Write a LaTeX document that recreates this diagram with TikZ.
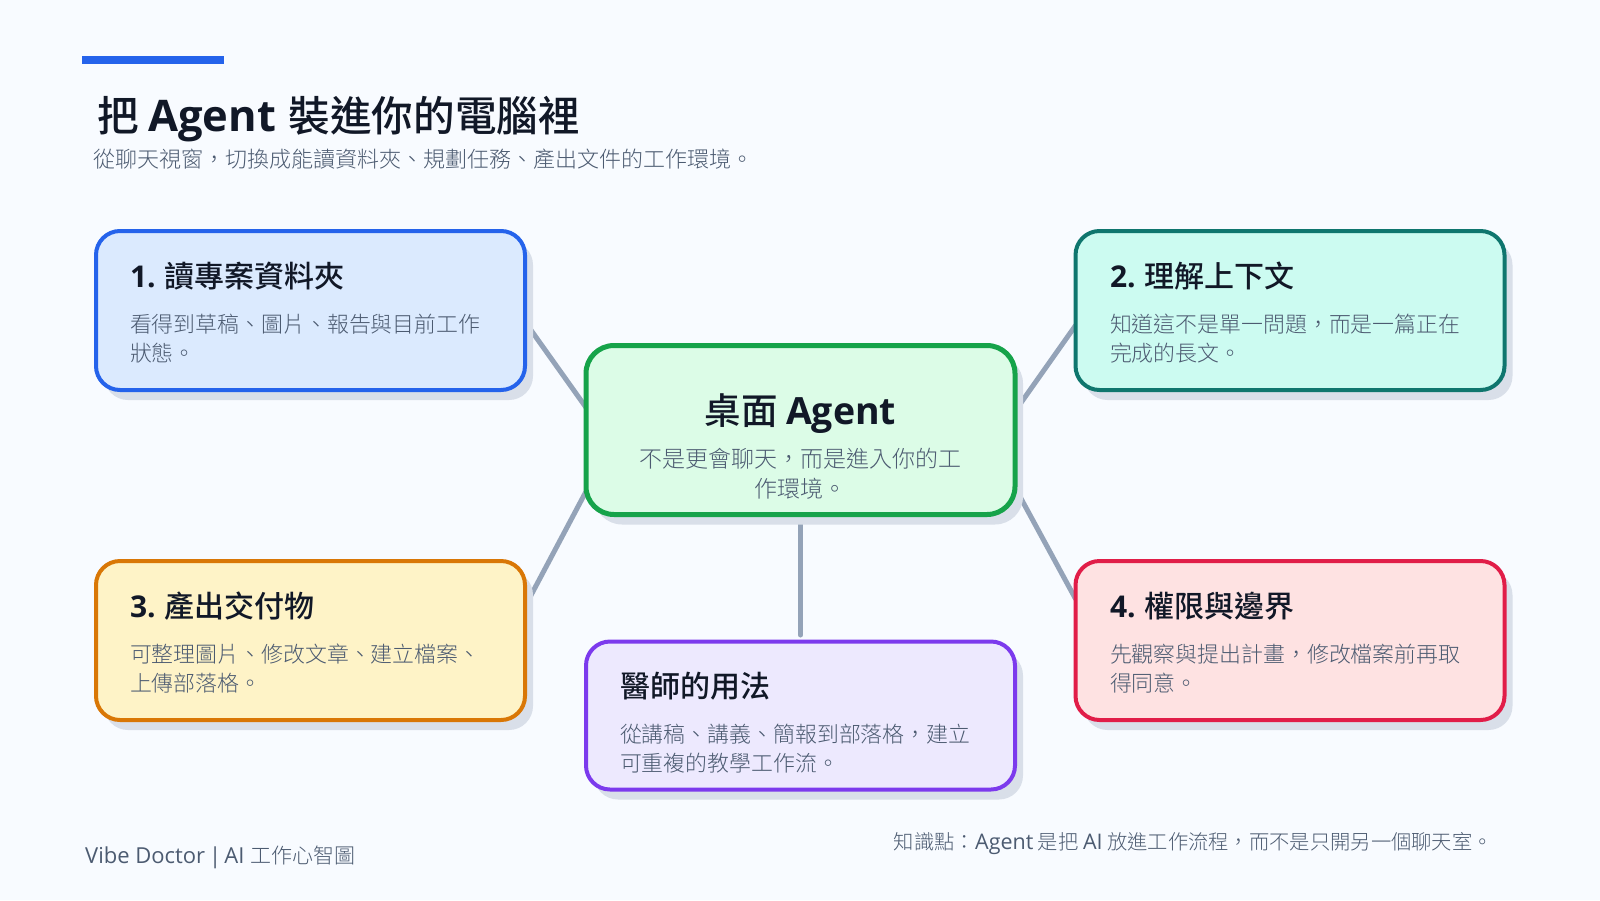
\documentclass[tikz,border=0pt]{standalone}
\usepackage{fontspec}
\usetikzlibrary{shadows}
\setmainfont{Noto Sans CJK TC}
\newfontfamily\lat{Open Sans}
\newfontfamily\lite{Noto Sans CJK TC Light}
\newfontfamily\medi{Noto Sans CJK TC Medium}
\definecolor{pagebg}{HTML}{F8FBFF}
\definecolor{ink}{HTML}{111827}
\definecolor{soft}{HTML}{4C5B71}
\definecolor{linkc}{HTML}{94A3B8}
\definecolor{shade}{HTML}{D9DFE9}
\definecolor{barc}{HTML}{2563EB}
\definecolor{sa}{HTML}{2563EB}\definecolor{fa}{HTML}{DBEAFE}
\definecolor{sb}{HTML}{0F766E}\definecolor{fb}{HTML}{CCFBF1}
\definecolor{sc}{HTML}{D97706}\definecolor{fc}{HTML}{FEF3C7}
\definecolor{sd}{HTML}{E11D48}\definecolor{fd}{HTML}{FEE2E2}
\definecolor{se}{HTML}{7C3AED}\definecolor{fe}{HTML}{EDE9FE}
\definecolor{sf}{HTML}{16A34A}\definecolor{ff}{HTML}{DCFCE7}
\pgfdeclarelayer{pagelayer}
\pgfdeclarelayer{linklayer}
\pgfsetlayers{pagelayer,linklayer,main}
\tikzset{
  x=1pt,y=-1pt,
  cardbox/.style 2 args={draw=#1,fill=#2,line width=4pt,rounded corners=24pt,
    minimum width=429pt,minimum height=159pt,inner sep=0pt,outer sep=0pt,
    general shadow={shadow xshift=8pt,shadow yshift=-10pt,fill=shade,draw=none}},
  head/.style={anchor=base west,inner sep=0pt,outer sep=0pt,text=ink,font=\fontsize{30}{36}\selectfont\medi},
  body/.style={anchor=base west,inner sep=0pt,outer sep=0pt,text=soft,align=left,font=\fontsize{21.9}{29}\selectfont\lite},
  link/.style={draw=linkc,line width=5pt,line cap=round},
}
\begin{document}
\begin{tikzpicture}
\useasboundingbox (0,0) rectangle (1600,900);
\begin{pgfonlayer}{pagelayer}
\fill[pagebg] (0,0) rectangle (1600,900);
\end{pgfonlayer}
\fill[barc] (82,56) rectangle (224,64);
\node[anchor=base west,inner sep=0pt,text=ink,font=\fontsize{41.6}{50}\selectfont\medi] (title) at (97,131) {把 {\lat\bfseries\fontsize{43.5}{50}\selectfont Agent}\hspace{3.5pt} 裝進你的電腦裡};
\node[anchor=base west,inner sep=0pt,text=soft,font=\fontsize{22}{28}\selectfont\lite] (sub) at (93,167) {從聊天視窗，切換成能讀資料夾、規劃任務、產出文件的工作環境。};
% boxes
\node[cardbox={sa}{fa}] (b1) at (310.5,310.5) {};
\node[cardbox={sb}{fb}] (b2) at (1290,310.5) {};
\node[cardbox={sc}{fc}] (b3) at (310.5,640.5) {};
\node[cardbox={sd}{fd}] (b4) at (1290,640.5) {};
\node[cardbox={se}{fe},minimum height=148pt] (b5) at (800.5,715.5) {};
\node[cardbox={sf}{ff},line width=5pt,rounded corners=28pt,minimum height=169pt] (c) at (800.5,430) {};
% connectors
\begin{pgfonlayer}{linklayer}
\draw[link] (c.174.46) -- (b1.-3.55);
\draw[link] (c.5.67) -- (b2.-176);
\draw[link] (c.-164.4) -- (b3.9.4);
\draw[link] (c.-15.8) -- (b4.169.7);
\draw[link,shorten >=6.5pt] (c.south) -- (b5.north);
\end{pgfonlayer}
% texts
\node[head] (h1) at (130,287) {{\lat\bfseries 1.} 讀專案資料夾};
\node[body] (t1) at (130,361) {看得到草稿、圖片、報告與目前工作\\狀態。};
\node[head] (h2) at (1110,287) {{\lat\bfseries 2.} 理解上下文};
\node[body] (t2) at (1110,361) {知道這不是單一問題，而是一篇正在\\完成的長文。};
\node[head] (h3) at (130,617) {{\lat\bfseries 3.} 產出交付物};
\node[body] (t3) at (130,691) {可整理圖片、修改文章、建立檔案、\\上傳部落格。};
\node[head] (h4) at (1110,617) {{\lat\bfseries 4.} 權限與邊界};
\node[body] (t4) at (1110,691) {先觀察與提出計畫，修改檔案前再取\\得同意。};
\node[head] (h5) at (620,697) {醫師的用法};
\node[body] (t5) at (620,771) {從講稿、講義、簡報到部落格，建立\\可重複的教學工作流。};
\node[anchor=base,inner sep=0pt,text=ink,font=\fontsize{36.5}{42}\selectfont\medi] (ch) at (800.5,424) {桌面 {\lat\bfseries\fontsize{37.5}{42}\selectfont Agent}};
\node[anchor=base,inner sep=0pt,text=soft,align=center,font=\fontsize{23}{30}\selectfont\lite] (cb) at (800.5,497) {不是更會聊天，而是進入你的工\\作環境。};
\node[anchor=base west,inner sep=0pt,text=soft,font=\fontsize{21}{28}\selectfont\lite] (foot) at (85,863) {{\lat\fontsize{22}{28}\selectfont Vibe Doctor\hspace{4pt}|\hspace{3pt}AI}\hspace{6pt}工作心智圖};
\node[anchor=base east,inner sep=0pt,text=soft,font=\fontsize{20.3}{26}\selectfont\lite] (note) at (1493,849) {知識點：{\lat\fontsize{21.5}{26}\selectfont Agent}\hspace{4.5pt}是把\hspace{4.5pt}{\lat\fontsize{21.5}{26}\selectfont AI}\hspace{4.5pt}放進工作流程，而不是只開另一個聊天室。};
\end{tikzpicture}
\end{document}
